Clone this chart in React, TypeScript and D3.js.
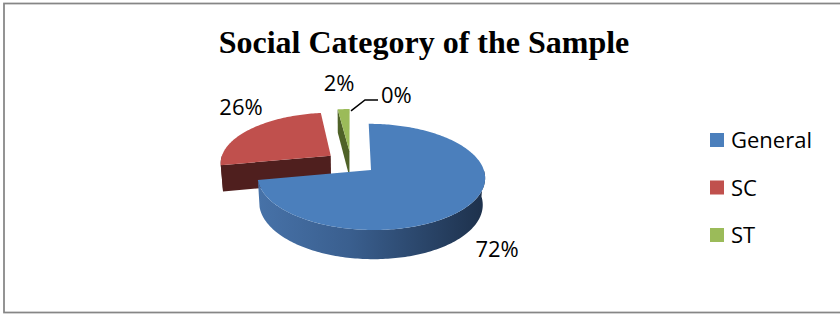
import React from 'react';
import * as d3 from 'd3';

// ---------- data ----------
const categories = ['General', 'SC', 'ST', 'Others'];
const values = [72, 26, 2, 0];
const legendCategories = ['General', 'SC', 'ST'];
const title = 'Social Category of the Sample';

// ---------- styles / layout ----------
const W = 840;
const H_SVG = 314;
const topColors = ['#4b7fbc', '#c0504d', '#9bbb59', '#8064a2'];
const sideColors = ['#3a5f8f', '#4f1f1e', '#4f6228', '#403152'];
const LABEL_FONT = '"Open Sans", Calibri, Lato, sans-serif';
const LABEL_SIZE = 22;

// 3D projection parameters
const R = 100;          // pie radius (world units)
const DEPTH = 27;       // pie thickness
const EXPLODE = 23;     // explosion distance
const DIST = 700;       // camera distance
const FOCAL = 775;      // focal length
const PHI = (27 * Math.PI) / 180; // elevation
const CX = 351;
const CY = 162.5;
const LABEL_K = 1.3;
const LABEL_NUDGE: [number, number][] = [[0, 2], [13, -15], [-3, -15], [0, 0]];

function proj(x: number, y: number, z: number): [number, number] {
  const c = Math.cos(PHI), s = Math.sin(PHI);
  const yc = y * c + z * s;
  const zc = DIST + z * c - y * s;
  return [CX + (FOCAL * x) / zc, CY - (FOCAL * yc) / zc];
}

const line = d3.line<[number, number]>();

export default function App() {
  const pie = d3.pie<number>().sort(null).startAngle(0).endAngle(2 * Math.PI);
  const arcs = pie(values);
  const total = d3.sum(values);
  const fmt = d3.format('.0%');

  const slices = arcs.map((a, i) => {
    const a0 = a.startAngle, a1 = a.endAngle;
    const mid = (a0 + a1) / 2;
    const ox = EXPLODE * Math.sin(mid);
    const oz = EXPLODE * Math.cos(mid);
    const rim = (t: number, y: number, k = 1): [number, number] =>
      proj(ox + R * k * Math.sin(t), y, oz + R * k * Math.cos(t));
    const apex = (y: number) => proj(ox, y, oz);
    return { i, a0, a1, mid, ox, oz, rim, apex, value: values[i] };
  });

  const sampleArc = (s: any, t0: number, t1: number, y: number) => {
    const n = Math.max(2, Math.ceil(Math.abs(t1 - t0) / 0.02));
    return d3.range(n + 1).map((j) => s.rim(t0 + ((t1 - t0) * j) / n, y));
  };

  const blueLeft = proj(-R - 10, 0, 0)[0];
  const blueRight = proj(R + 30, 0, 0)[0];

  const order = slices
    .filter((s) => s.value > 0)
    .sort((a, b) => Math.cos(b.mid) - Math.cos(a.mid));

  const shapes: JSX.Element[] = [];
  order.forEach((s) => {
    const faces: JSX.Element[] = [];
    const w0 = Math.max(s.a0, Math.PI / 2);
    const w1 = Math.min(s.a1, (3 * Math.PI) / 2);
    if (w1 > w0) {
      const topPts = sampleArc(s, w0, w1, 0);
      const botPts = sampleArc(s, w1, w0, -DEPTH);
      faces.push(
        <path key={`w${s.i}`} d={line([...topPts, ...botPts])! + 'Z'}
          fill={s.i === 0 ? 'url(#wallGrad0)' : sideColors[s.i]} />
      );
    }
    if (Math.sin(s.a0) < -1e-6) {
      const pts = [s.apex(0), s.rim(s.a0, 0), s.rim(s.a0, -DEPTH), s.apex(-DEPTH)];
      faces.push(<path key={`s${s.i}`} d={line(pts)! + 'Z'} fill={sideColors[s.i]} />);
    }
    if (Math.sin(s.a1) > 1e-6) {
      const pts = [s.apex(0), s.rim(s.a1, 0), s.rim(s.a1, -DEPTH), s.apex(-DEPTH)];
      faces.push(<path key={`e${s.i}`} d={line(pts)! + 'Z'} fill={sideColors[s.i]} />);
    }
    const topPts = [s.apex(0), ...sampleArc(s, s.a0, s.a1, 0)];
    shapes.push(
      <g key={`slice${s.i}`}>
        {faces}
        <path d={line(topPts)! + 'Z'} fill={topColors[s.i]} />
      </g>
    );
  });

  const labels: JSX.Element[] = [];
  slices.forEach((s) => {
    const txt = fmt(s.value / total);
    if (s.value > 0) {
      const front = Math.cos(s.mid) < 0;
      const p = proj(
        s.ox + R * LABEL_K * Math.sin(s.mid),
        front ? -DEPTH : 0,
        s.oz + R * LABEL_K * Math.cos(s.mid)
      );
      const x = p[0] + LABEL_NUDGE[s.i][0];
      const y = p[1] + LABEL_NUDGE[s.i][1];
      labels.push(
        <text key={`l${s.i}`} x={x} y={y + 8} textAnchor="middle"
          fontFamily={LABEL_FONT} fontSize={LABEL_SIZE} fill="#000">{txt}</text>
      );
    } else {
      const start = s.rim(s.a0, 0, 0.95);
      const elbow: [number, number] = [start[0] + 14, start[1] - 11];
      const end: [number, number] = [elbow[0] + 13, elbow[1]];
      labels.push(
        <g key={`l${s.i}`}>
          <path d={line([start, elbow, end])!} fill="none" stroke="#000" strokeWidth={1.5} />
          <text x={end[0] + 3} y={elbow[1] + 3} fontFamily={LABEL_FONT} fontSize={LABEL_SIZE} fill="#000">{txt}</text>
        </g>
      );
    }
  });

  return (
    <svg width={W} height={H_SVG} style={{ position: 'absolute', left: 0, top: 0 }}>
      <defs>
        <linearGradient id="wallGrad0" gradientUnits="userSpaceOnUse" x1={blueLeft} x2={blueRight} y1={0} y2={0}>
          <stop offset="0" stopColor="#4b78b0" />
          <stop offset="0.45" stopColor="#3a5f8f" />
          <stop offset="1" stopColor="#1b2d46" />
        </linearGradient>
      </defs>
      <rect x={0} y={0} width={W} height={H_SVG} fill="#fff" />
      <rect x={4} y={3.5} width={W + 10} height={309} fill="none" stroke="#868686" strokeWidth={1.75} />
      <text x={424} y={53} textAnchor="middle" fontFamily='"Liberation Serif", "Times New Roman", serif'
        fontWeight="bold" fontSize={32} fill="#000">{title}</text>
      {shapes}
      {labels}
      {legendCategories.map((c, i) => {
        const idx = categories.indexOf(c);
        const base = 148 + i * 47.5;
        return (
          <g key={`lg${i}`}>
            <rect x={710} y={base - 15} width={14} height={14} fill={topColors[idx]} />
            <text x={731} y={base} fontFamily={LABEL_FONT} fontSize={LABEL_SIZE} fill="#000">{c}</text>
          </g>
        );
      })}
    </svg>
  );
}
